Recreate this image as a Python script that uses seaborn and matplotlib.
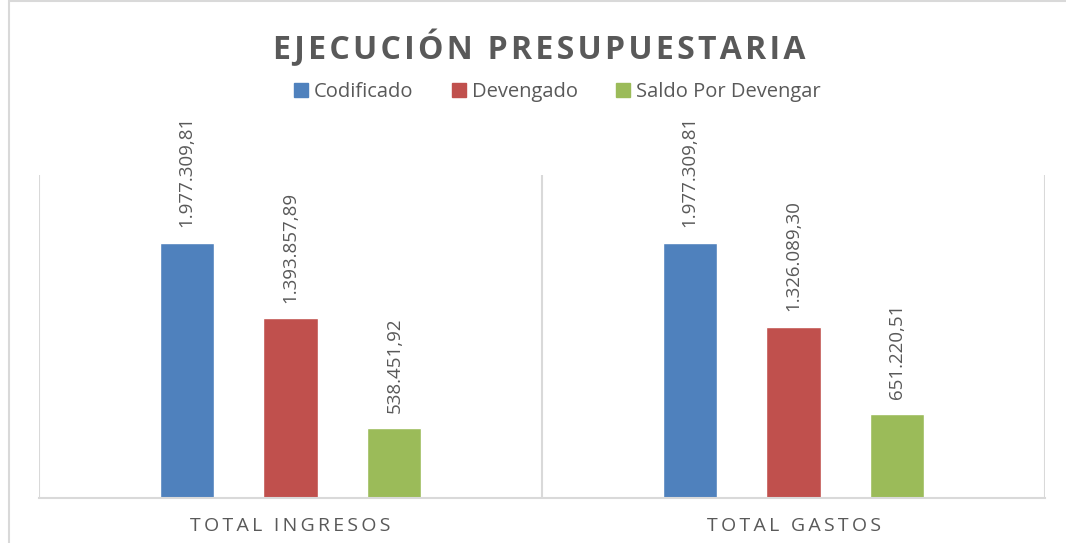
import pandas as pd
import seaborn as sns
import matplotlib.pyplot as plt
from matplotlib.patches import Rectangle

categories = ['TOTAL INGRESOS', 'TOTAL GASTOS']
series = ['Codificado', 'Devengado', 'Saldo Por Devengar']
codificado = [1977309.81, 1977309.81]
devengado = [1393857.89, 1326089.30]
saldo = [538451.92, 651220.51]
colors = ['#4F81BD', '#C0504D', '#9BBB59']


def fmt_es(v):
    # 1,977,309.81 -> 1.977.309,81
    return '{:,.2f}'.format(v).replace(',', '#').replace('.', ',').replace('#', '.')


def spaced(s, sep='\u2009'):
    return sep.join(s)


rows = []
for name, vals in zip(series, [codificado, devengado, saldo]):
    for cat, v in zip(categories, vals):
        rows.append({'categoria': cat, 'serie': name, 'valor': v})
df = pd.DataFrame(rows)

sns.set_style('white')
plt.rcParams['font.family'] = ['Open Sans', 'DejaVu Sans']

fig = plt.figure(figsize=(10.66, 5.43), dpi=100)
ax = fig.add_axes([0.0366, 0.0829, 0.9437, 0.5948])

sns.barplot(data=df, x='categoria', y='valor', hue='serie', order=categories,
            hue_order=series, palette=colors, width=0.62, gap=0.48,
            saturation=1, legend=False, ax=ax)

for cont, vals in zip(ax.containers, [codificado, devengado, saldo]):
    ax.bar_label(cont, labels=[fmt_es(v) for v in vals], rotation=90,
                 padding=11, fontsize=13.5, color='#595959')

ax.set_xlim(-0.5, 1.5)
ax.set_ylim(0, 2500000)
ax.set_yticks([])
ax.set_xlabel('')
ax.set_ylabel('')
ax.set_xticks(range(len(categories)))
ax.set_xticklabels([spaced(c) for c in categories], fontsize=14, color='#595959')
ax.tick_params(axis='x', length=0, pad=14)
for s in ['top', 'right', 'left']:
    ax.spines[s].set_visible(False)
ax.spines['bottom'].set_color('#D9D9D9')
ax.spines['bottom'].set_linewidth(1.5)
for x in [-0.5, 0.5, 1.5]:
    ax.axvline(x, color='#D9D9D9', lw=1.5, zorder=0)

fig.text(0.506, 0.91, spaced('EJECUCIÓN PRESUPUESTARIA', '\u200a'), ha='center', va='center',
         fontsize=23, fontweight='bold', color='#595959')

handles = [Rectangle((0, 0), 1, 1, color=c) for c in colors]
fig.legend(handles, series, loc='center', bbox_to_anchor=(0.523, 0.83), ncol=3,
           frameon=False, fontsize=14.5, handlelength=0.7, handleheight=0.7,
           handletextpad=0.3, columnspacing=1.9, labelcolor='#595959')

fig.patches.append(Rectangle((0.0089, -0.2), 1.5, 1.1988, transform=fig.transFigure,
                             fill=False, edgecolor='#D9D9D9', lw=1.5))

fig.savefig('out.png', dpi=100)
